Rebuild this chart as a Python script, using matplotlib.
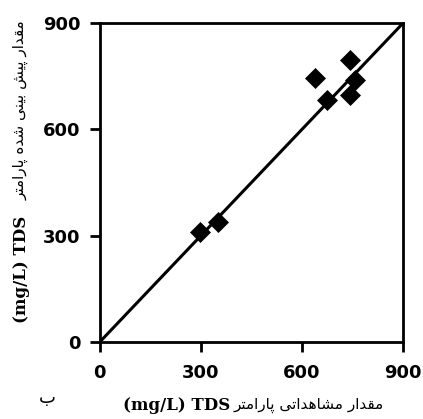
from matplotlib import pyplot as plt
import numpy as np

observed = [297, 350, 639, 674, 743, 743, 757]
predicted = [310, 339, 745, 683, 697, 796, 739]
line_xy = [0, 900]
ticks = [0, 300, 600, 900]

unit_label = '(mg/L) TDS'
x_label_fa = 'مقدار مشاهداتی پارامتر'
y_label_fa = 'مقدار پیش بینی شده پارامتر'
panel_label = 'ب'

# isolated, final, initial, medial presentation forms
FORMS = {
    'ا': ('\uFE8D', '\uFE8E', None, None),
    'د': ('\uFEA9', '\uFEAA', None, None),
    'ر': ('\uFEAD', '\uFEAE', None, None),
    'ب': ('\uFE8F', '\uFE90', '\uFE91', '\uFE92'),
    'پ': ('\uFB56', '\uFB57', '\uFB58', '\uFB59'),
    'ت': ('\uFE95', '\uFE96', '\uFE97', '\uFE98'),
    'ش': ('\uFEB5', '\uFEB6', '\uFEB7', '\uFEB8'),
    'ق': ('\uFED5', '\uFED6', '\uFED7', '\uFED8'),
    'م': ('\uFEE1', '\uFEE2', '\uFEE3', '\uFEE4'),
    'ن': ('\uFEE5', '\uFEE6', '\uFEE7', '\uFEE8'),
    'ه': ('\uFEE9', '\uFEEA', '\uFEEB', '\uFEEC'),
    'ی': ('\uFBFC', '\uFBFD', '\uFBFE', '\uFBFF'),
}

def shape(text):
    out = []
    for i, ch in enumerate(text):
        if ch not in FORMS:
            out.append(ch)
            continue
        prev = text[i - 1] if i > 0 else ''
        nxt = text[i + 1] if i + 1 < len(text) else ''
        join_prev = prev in FORMS and FORMS[prev][2] is not None
        join_next = FORMS[ch][2] is not None and nxt in FORMS
        iso, fin, ini, med = FORMS[ch]
        if join_prev and join_next:
            out.append(med)
        elif join_prev:
            out.append(fin)
        elif join_next:
            out.append(ini)
        else:
            out.append(iso)
    return ''.join(out)[::-1]

fig = plt.figure(figsize=(4.23, 4.19), dpi=100)
ax = fig.add_axes([0.236, 0.184, 0.717, 0.761])

ax.plot(line_xy, line_xy, color='black', lw=2.2, solid_capstyle='butt', zorder=2)
ax.plot(observed, predicted, 'D', color='black', ms=10.5, mew=0.5, zorder=3)

ax.set_xlim(0, 900)
ax.set_ylim(0, 900)
ax.set_xticks(ticks)
ax.set_yticks(ticks)
for s in ax.spines.values():
    s.set_linewidth(2)
ax.tick_params(direction='out', length=7, width=2, labelsize=13, pad=7)
ax.tick_params(axis='x', pad=9)
for lab in ax.get_xticklabels() + ax.get_yticklabels():
    lab.set_fontweight('bold')
    lab.set_fontfamily('DejaVu Sans')

# axis titles: latin unit part + persian part
fig.text(0.544, 0.033, unit_label, ha='right', va='center',
         family='DejaVu Serif', weight='bold', fontsize=12)
fig.text(0.553, 0.033, shape(x_label_fa), ha='left', va='center',
         family='DejaVu Sans', fontsize=11)
fig.text(0.05, 0.356, unit_label, ha='center', va='center', rotation=90,
         family='DejaVu Serif', weight='bold', fontsize=12)
fig.text(0.05, 0.523, shape(y_label_fa), ha='center', va='bottom', rotation=90,
         family='DejaVu Sans', fontsize=11)
fig.text(0.113, 0.05, panel_label, ha='center', va='center',
         family='DejaVu Sans', fontsize=13)

fig.savefig('out.png', dpi=100)
